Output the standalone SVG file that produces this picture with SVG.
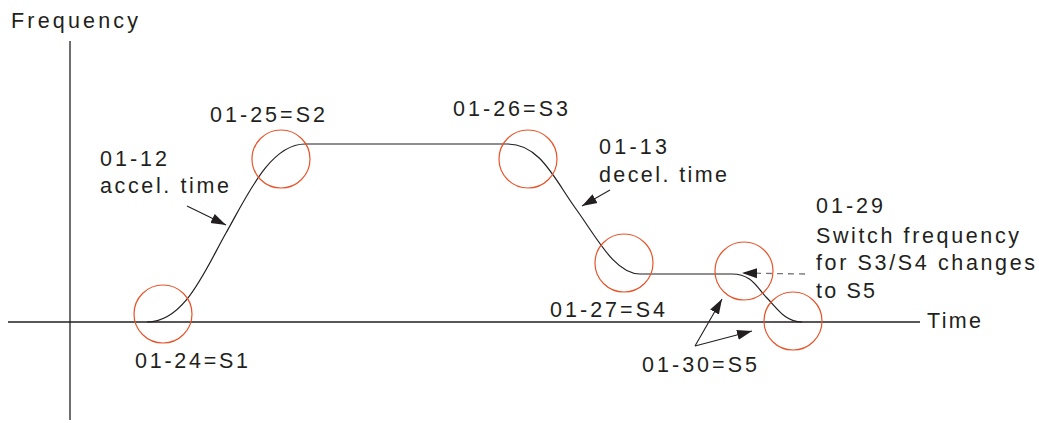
<svg xmlns="http://www.w3.org/2000/svg" width="1039" height="423" viewBox="0 0 1039 423">
<defs>
<style>
text{font-family:"Liberation Sans",Arial,sans-serif;font-size:21.5px;fill:#231f20}
.ax{stroke:#231f20;stroke-width:1.3;fill:none}
.cv{stroke:#231f20;stroke-width:1.2;fill:none}
.ci{stroke:#e8542a;stroke-width:1.2;fill:none}
.ar{stroke:#231f20;stroke-width:1.1;fill:none;marker-end:url(#ah)}
.da{stroke:#777;stroke-width:1.3;fill:none;stroke-dasharray:6,5;marker-end:url(#ah)}
</style>
<marker id="ah" markerUnits="userSpaceOnUse" markerWidth="16" markerHeight="12" refX="15" refY="5" orient="auto" viewBox="0 0 16 10">
<path d="M0,0 L15,5 L0,10 Z" fill="#231f20"/>
</marker>
</defs>
<rect width="1039" height="423" fill="#fff"/>
<g id="axes">
<line class="ax" x1="70" y1="41" x2="70" y2="420"/>
<line class="ax" x1="8" y1="322" x2="920" y2="322"/>
<text x="11" y="28" textLength="127" lengthAdjust="spacing">Frequency</text>
<text x="927" y="328" textLength="54" lengthAdjust="spacing">Time</text>
</g>
<g id="curve">
<path class="cv" d="M147,322 C185,322 205,270 226,233 S270,144 305,144 L508,144 C540,144 555,180 576,209 S615,274 640,274 L732,274 C752,274 757,288 767,298 S785,322 802,322"/>
</g>
<g id="s1"><circle class="ci" cx="163" cy="314" r="29"/><text x="135" y="368" textLength="113" lengthAdjust="spacing">01-24=S1</text></g>
<g id="s2"><circle class="ci" cx="281" cy="159" r="29"/><text x="210" y="122" textLength="115" lengthAdjust="spacing">01-25=S2</text></g>
<g id="s3"><circle class="ci" cx="528" cy="159" r="29"/><text x="453" y="116" textLength="115" lengthAdjust="spacing">01-26=S3</text></g>
<g id="s4"><circle class="ci" cx="624" cy="263" r="29"/><text x="550" y="317" textLength="115" lengthAdjust="spacing">01-27=S4</text></g>
<g id="s5a"><circle class="ci" cx="744" cy="271" r="29"/></g>
<g id="s5b"><circle class="ci" cx="793" cy="321" r="29"/></g>
<g id="s5label"><text x="642" y="372" textLength="115" lengthAdjust="spacing">01-30=S5</text></g>
<g id="accel">
<text x="100" y="166" textLength="67" lengthAdjust="spacing">01-12</text>
<text x="100" y="193" textLength="129" lengthAdjust="spacing">accel. time</text>
</g>
<g id="decel">
<text x="599" y="154" textLength="68" lengthAdjust="spacing">01-13</text>
<text x="599" y="182" textLength="128" lengthAdjust="spacing">decel. time</text>
</g>
<g id="switch">
<text x="816" y="213" textLength="67" lengthAdjust="spacing">01-29</text>
<text x="816" y="243" textLength="203" lengthAdjust="spacing">Switch frequency</text>
<text x="816" y="270" textLength="219" lengthAdjust="spacing">for S3/S4 changes</text>
<text x="816" y="298" textLength="59" lengthAdjust="spacing">to S5</text>
</g>
<g id="connectors">
<line class="ar" x1="187" y1="206" x2="226" y2="225"/>
<line class="ar" x1="610" y1="190" x2="582" y2="206"/>
<line class="ar" x1="695" y1="346" x2="722" y2="299"/>
<line class="ar" x1="695" y1="346" x2="752" y2="331"/>
<line class="da" x1="805" y1="274" x2="742" y2="273"/>
</g>
</svg>
